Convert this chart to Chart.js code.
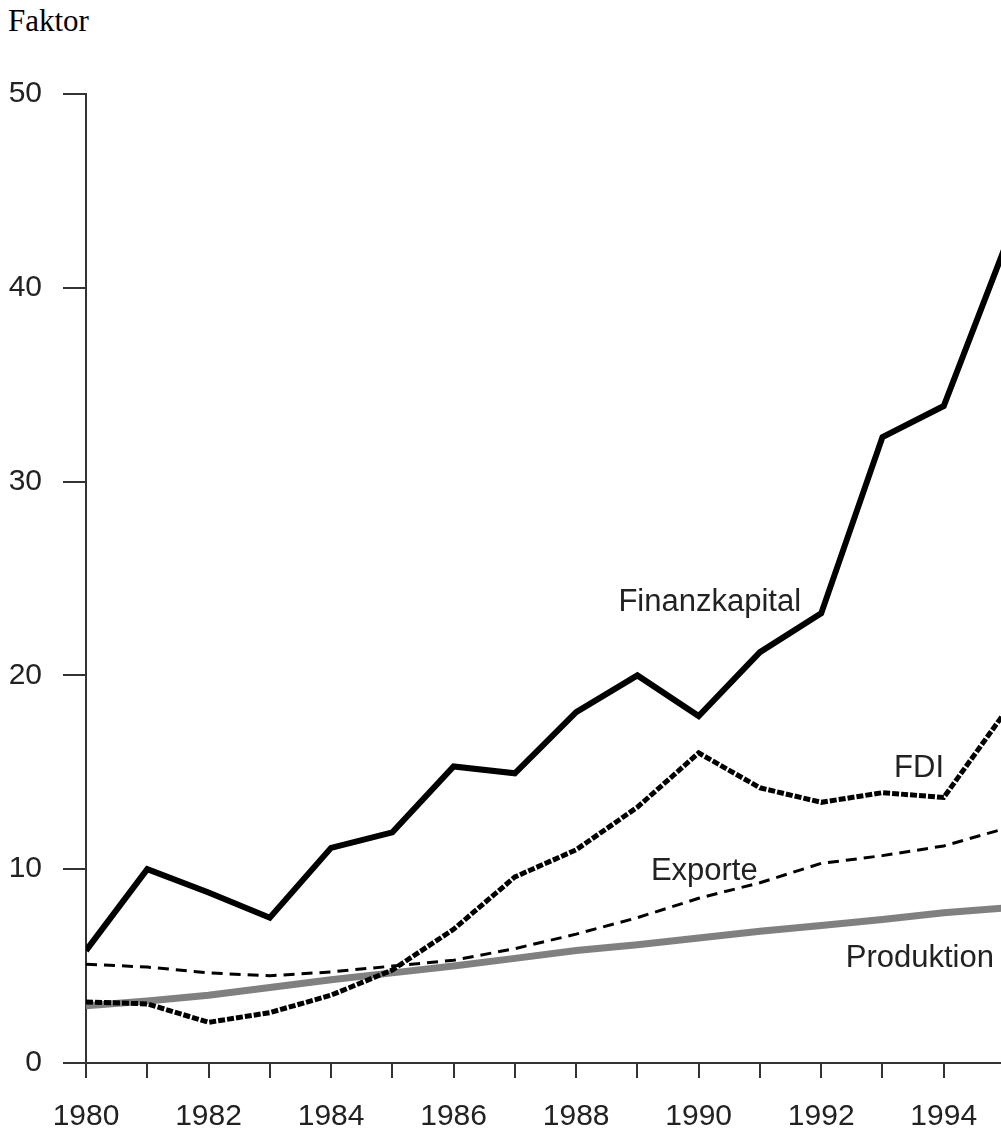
<!DOCTYPE html>
<html>
<head>
<meta charset="utf-8">
<script src="https://cdn.jsdelivr.net/npm/chart.js@4"></script>
<style>
  html, body { margin: 0; padding: 0; overflow: hidden; background: #fff; width: 1001px; height: 1130px; }
  #title { position: absolute; left: 8px; top: 6px; font-family: "Liberation Serif", "Times New Roman", serif; font-size: 31px; line-height: 30px; color: #000; }
  #wrap { position: absolute; left: 0; top: 0; width: 1026px; height: 1130px; }
</style>
</head>
<body>
<div id="title">Faktor</div>
<div id="wrap"><canvas id="c" width="1026" height="1130"></canvas></div>
<script>
const years = [1980,1981,1982,1983,1984,1985,1986,1987,1988,1989,1990,1991,1992,1993,1994,1995];
const finanzkapital = [5.8,10.0,8.8,7.5,11.1,11.9,15.3,14.95,18.1,20.0,17.9,21.2,23.2,32.3,33.9,42.1];
const fdi = [3.15,3.05,2.1,2.6,3.5,4.8,6.9,9.6,11.0,13.2,16.0,14.2,13.45,13.95,13.7,18.1];
const exporte = [5.1,4.95,4.65,4.5,4.7,5.0,5.3,5.9,6.65,7.5,8.5,9.3,10.3,10.7,11.2,12.1];
const produktion = [2.95,3.2,3.5,3.9,4.3,4.65,5.0,5.4,5.8,6.1,6.45,6.8,7.1,7.4,7.75,8.0];
const yTicks = [0,10,20,30,40,50];
const seriesNames = ['Finanzkapital','FDI','Exporte','Produktion'];
// label anchors in data units (year, value)
const labelYears = [1988.69, 1993.19, 1989.22, 1992.40];
const labelValues = [23.32, 14.76, 9.44, 4.95];

const toXY = arr => years.map((y, i) => ({x: y, y: arr[i]}));

const seriesLabels = {
  id: 'seriesLabels',
  afterDatasetsDraw(chart) {
    const {ctx, scales} = chart;
    ctx.save();
    ctx.font = '31px "Liberation Sans", Arial, sans-serif';
    ctx.fillStyle = '#222';
    ctx.textAlign = 'left';
    ctx.textBaseline = 'alphabetic';
    seriesNames.forEach((n, i) => {
      ctx.fillText(n, scales.x.getPixelForValue(labelYears[i]), scales.y.getPixelForValue(labelValues[i]));
    });
    ctx.restore();
  }
};

new Chart(document.getElementById('c'), {
  type: 'line',
  data: {
    datasets: [
      { label: seriesNames[0], data: toXY(finanzkapital), borderColor: '#000', borderWidth: 6, pointRadius: 0, tension: 0, fill: false },
      { label: seriesNames[1], data: toXY(fdi), borderColor: '#000', borderWidth: 5, borderDash: [7, 2], pointRadius: 0, tension: 0, fill: false },
      { label: seriesNames[2], data: toXY(exporte), borderColor: '#000', borderWidth: 3, borderDash: [11, 7], pointRadius: 0, tension: 0, fill: false },
      { label: seriesNames[3], data: toXY(produktion), borderColor: '#808080', borderWidth: 7, pointRadius: 0, tension: 0, fill: false }
    ]
  },
  options: {
    responsive: false,
    animation: false,
    devicePixelRatio: 1,
    layout: { padding: { top: 94, right: 0, left: 0, bottom: 0 } },
    plugins: { legend: { display: false }, tooltip: { enabled: false }, title: { display: false } },
    scales: {
      x: {
        type: 'linear',
        min: years[0],
        max: years[years.length - 1],
        afterFit: s => { s.height = 67; },
        afterBuildTicks: s => { s.ticks = years.map(v => ({value: v})); },
        ticks: {
          callback: v => (v % 2 === 0 ? String(v) : ''),
          font: { family: '"Liberation Sans", Arial, sans-serif', size: 30 },
          color: '#222',
          padding: 21,
          maxRotation: 0,
          autoSkip: false
        },
        grid: { drawOnChartArea: false, drawTicks: true, tickLength: 15, color: '#333', lineWidth: 2 },
        border: { display: true, color: '#333', width: 2 }
      },
      y: {
        min: 0,
        max: 50,
        afterFit: s => { s.width = 86; },
        afterBuildTicks: s => { s.ticks = yTicks.map(v => ({value: v})); },
        ticks: {
          callback: v => String(v),
          font: { family: '"Liberation Sans", Arial, sans-serif', size: 30 },
          color: '#222',
          padding: 21
        },
        grid: { drawOnChartArea: false, drawTicks: true, tickLength: 23, color: '#333', lineWidth: 2 },
        border: { display: true, color: '#333', width: 2 }
      }
    }
  },
  plugins: [seriesLabels]
});
</script>
</body>
</html>
